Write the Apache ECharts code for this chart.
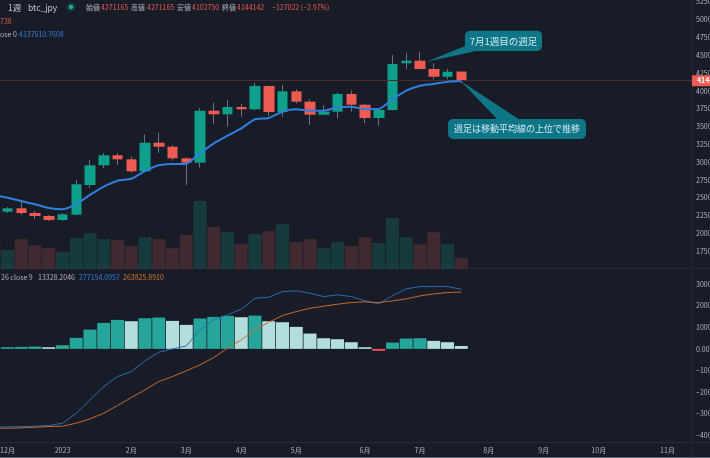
<!DOCTYPE html>
<html lang="ja">
	<head>
		<meta charset="utf-8">
		<title>btc_jpy 1週</title>
		<style>
			html, body { margin: 0; padding: 0; background: #181c27; }
			#chart { width: 710px; height: 458px; }
		</style>
	</head>
	<body>
		<div id="chart"></div>

		<script src="https://cdn.jsdelivr.net/npm/echarts@6/dist/echarts.min.js"></script>
		<script type="text/javascript">
			//週ラベル（先頭の1本は左端で切れている週）
			var weekLabels = ['', '12月', '', '', '', '2023', '', '', '', '', '2月', '', '', '', '3月', '', '', '', '4月', '', '', '', '5月', '', '', '', '', '6月', '', '', '', '7月', '', '', '', '', '8月', '', '', '', '9月', '', '', '', '10月', '', '', '', '', '11月', '', ''];

			//ローソク足
			var opens = [2330000, 2305000, 2353000, 2287000, 2245000, 2189000, 2263000, 2680000, 2956000, 3097000, 3040000, 2872000, 3273000, 3217000, 3054000, 2993000, 3722000, 3672000, 3774000, 3742000, 4069000, 3704000, 3994000, 3849000, 3666000, 3708000, 3957000, 3806000, 3620000, 3732000, 4387000, 4424000, 4307000, 4199000, 4271165];
			var closes = [2305000, 2353000, 2287000, 2245000, 2189000, 2269000, 2690000, 2956000, 3097000, 3040000, 2872000, 3273000, 3217000, 3054000, 2993000, 3722000, 3672000, 3774000, 3742000, 4069000, 3704000, 3994000, 3849000, 3666000, 3708000, 3957000, 3806000, 3620000, 3732000, 4377000, 4424000, 4307000, 4199000, 4269000, 4144142];
			var highs = [2340000, 2371000, 2469000, 2315000, 2259000, 2287000, 2750000, 3031000, 3129000, 3129000, 3077000, 3386000, 3414000, 3241000, 3068000, 3760000, 3834000, 3872000, 3816000, 4115000, 4076000, 4083000, 4022000, 3882000, 3802000, 3975000, 4003000, 3816000, 3739000, 4504000, 4536000, 4550000, 4387000, 4307000, 4271165];
			var lows = [2290000, 2287000, 2263000, 2203000, 2175000, 2175000, 2252000, 2638000, 2918000, 2960000, 2848000, 2862000, 3129000, 3021000, 2680000, 2923000, 3536000, 3498000, 3638000, 3725000, 3648000, 3638000, 3826000, 3522000, 3662000, 3616000, 3708000, 3545000, 3508000, 3725000, 4303000, 4300000, 4163000, 4163000, 4102750];

			//移動平均線
			var maValues = [2540000, 2502000, 2455000, 2409000, 2357000, 2339000, 2413000, 2540000, 2656000, 2740000, 2768000, 2876000, 2956000, 2974000, 2979000, 3125000, 3265000, 3372000, 3475000, 3602000, 3620000, 3708000, 3742000, 3722000, 3722000, 3770000, 3778000, 3746000, 3746000, 3882000, 4003000, 4073000, 4097000, 4130000, 4137610.7608];

			//出来高
			var volumes = [24, 19, 30, 24, 21, 17, 31, 36, 30, 29, 23, 32, 30, 21, 34, 68, 42, 37, 25, 35, 38, 45, 27, 30, 21, 27, 23, 32, 26, 51, 32, 25, 37, 25, 11];

			//MACD
			var macdLine = [-363900, -362300, -360800, -359200, -356100, -345300, -298800, -236900, -175000, -128500, -105300, -55700, -15500, 0, 13900, 88300, 134700, 157900, 184300, 235300, 240000, 266300, 269400, 258600, 243100, 250800, 243100, 223000, 209000, 247700, 278700, 289500, 289500, 289500, 277154.0957];
			var signalLine = [-368500, -368500, -367000, -363900, -360800, -359200, -345300, -325200, -298800, -263200, -226100, -190400, -151800, -128500, -102200, -74300, -40300, 3100, 41800, 88300, 123900, 154800, 173400, 188900, 198200, 207500, 215200, 218300, 215200, 223000, 232300, 246200, 255500, 261700, 263825.891];
			var histogram = [7000, 7700, 9300, 10800, 7700, 17000, 51100, 89800, 120700, 134700, 128500, 142400, 145500, 130000, 111500, 140900, 148600, 153300, 147100, 154800, 128500, 123800, 102200, 71200, 49500, 44900, 31000, 7700, -9000, 29400, 48000, 49500, 37200, 31000, 13328.2046];

			var lastClose = 4144142;

			var upColor = '#0fa08b';
			var downColor = '#ef5b50';
			var textColor = '#b2b5be';
			var labelFont = '"Noto Sans CJK JP", "Noto Sans", sans-serif';

			//凡例テキスト [文字, x, y, 色, サイズ]
			var legendTexts = [
				['1週', 8, 7.5, '#c4c7d0', 8.5],
				['btc_jpy', 28, 7.5, '#c4c7d0', 8.5],
				['始値', 86, 7.5, textColor, 7],
				['4271165', 101, 7.5, downColor, 7],
				['高値', 131, 7.5, textColor, 7],
				['4271165', 147, 7.5, downColor, 7],
				['安値', 177, 7.5, textColor, 7],
				['4102750', 192, 7.5, downColor, 7],
				['終値', 222, 7.5, textColor, 7],
				['4144142', 237, 7.5, downColor, 7],
				['−127022 (−2.97%)', 272, 7.5, downColor, 7],
				['738', 0, 21, downColor, 7],
				['ose 0', 0, 34.5, textColor, 7],
				['4137610.7608', 19, 34.5, '#2f7fe0', 7],
				['26 close 9', 1, 277.5, textColor, 7],
				['13328.2046', 38, 277.5, textColor, 7],
				['277154.0957', 79, 277.5, '#2f7fe0', 7],
				['263825.8910', 123, 277.5, '#e0782f', 7]
			];

			function isUp(i) {
				return closes[i] >= opens[i];
			}

			function histColor(i) {
				var v = histogram[i];
				var prev = i > 0 ? histogram[i - 1] : v;
				if (v >= 0) {
					return v >= prev ? '#26a69a' : '#b2dfdb';
				}
				return v <= prev ? '#ef5350' : '#ffcdd2';
			}

			var graphics = [
				//ペインの区切り
				{ type: 'rect', shape: { x: 692, y: 0, width: 1, height: 458 }, style: { fill: '#262a36' }, z: 1 },
				{ type: 'rect', shape: { x: 0, y: 268, width: 710, height: 1 }, style: { fill: '#262a36' }, z: 1 },
				{ type: 'rect', shape: { x: 0, y: 442, width: 710, height: 1 }, style: { fill: '#262a36' }, z: 1 },
				{ type: 'rect', shape: { x: 0, y: 457, width: 710, height: 1 }, style: { fill: '#5a6270' }, z: 1 },
				//吹き出し
				{ type: 'polygon', shape: { points: [[465, 46], [426.7, 61.7], [476, 51]] }, style: { fill: '#0f7688' }, z: 100 },
				{ type: 'rect', shape: { x: 465, y: 30.7, width: 77, height: 20.3, r: 5 }, style: { fill: '#0f7688' }, z: 100 },
				{ type: 'text', x: 503.5, y: 41, style: { text: '7月1週目の週足', fill: '#d3eaee', font: '9.5px ' + labelFont, align: 'center', verticalAlign: 'middle' }, z: 101 },
				{ type: 'polygon', shape: { points: [[460.7, 81], [498, 120], [520, 120]] }, style: { fill: '#0f7688' }, z: 100 },
				{ type: 'rect', shape: { x: 448, y: 119, width: 138, height: 20, r: 5 }, style: { fill: '#0f7688' }, z: 100 },
				{ type: 'text', x: 517, y: 129, style: { text: '週足は移動平均線の上位で推移', fill: '#d3eaee', font: '9px ' + labelFont, align: 'center', verticalAlign: 'middle' }, z: 101 }
			];
			legendTexts.forEach(function (t) {
				graphics.push({ type: 'text', x: t[1], y: t[2], style: { text: t[0], fill: t[3], font: t[4] + 'px ' + labelFont, verticalAlign: 'middle' }, z: 50 });
			});
			graphics.push({ type: 'circle', shape: { cx: 71, cy: 7, r: 2.2 }, style: { fill: '#12b59b' }, z: 50 });
			graphics.push({ type: 'circle', shape: { cx: 71, cy: 7, r: 4.5 }, style: { fill: 'rgba(18,181,155,0.2)' }, z: 49 });

			var chart = echarts.init(document.getElementById('chart'));
			chart.setOption({
				backgroundColor: '#181c27',
				animation: false,
				graphic: graphics,
				grid: [
					{ left: -13.125, width: 715, top: 1.8, height: 267.3, outerBoundsMode: 'none' },
					{ left: -13.125, width: 715, top: 284.3, height: 150.7, outerBoundsMode: 'none' }
				],
				xAxis: [
					{ type: 'category', gridIndex: 0, data: weekLabels, show: false },
					{
						type: 'category',
						gridIndex: 1,
						data: weekLabels,
						offset: 7,
						axisLine: { show: false },
						axisTick: { show: false },
						axisLabel: {
							color: textColor,
							fontFamily: labelFont,
							fontSize: 7,
							margin: 5,
							hideOverlap: false,
							interval: function (index, value) {
								return value !== '';
							}
						}
					}
				],
				yAxis: [
					{
						type: 'value',
						gridIndex: 0,
						position: 'right',
						offset: -9.875,
						min: 1500000,
						max: 5250000,
						interval: 250000,
						splitLine: { show: false },
						axisLine: { show: false },
						axisTick: { show: false },
						axisLabel: {
							color: textColor,
							fontFamily: labelFont,
							fontSize: 7,
							margin: 4,
							showMinLabel: false,
							formatter: function (v) {
								return String(v);
							}
						}
					},
					{ type: 'value', gridIndex: 0, min: 0, max: 267, show: false, splitLine: { show: false } },
					{
						type: 'value',
						gridIndex: 1,
						position: 'right',
						offset: -9.875,
						min: -400000,
						max: 300000,
						interval: 100000,
						splitLine: { show: false },
						axisLine: { show: false },
						axisTick: { show: false },
						axisLabel: {
							color: textColor,
							fontFamily: labelFont,
							fontSize: 7,
							margin: 4,
							formatter: function (v) {
								return v.toFixed(2).replace('-', '−');
							}
						}
					}
				],
				series: [
					{
						name: 'volume',
						type: 'bar',
						xAxisIndex: 0,
						yAxisIndex: 1,
						barWidth: 13,
						silent: true,
						data: volumes.map(function (v, i) {
							return { value: v, itemStyle: { color: isUp(i) ? '#173b3d' : '#40292f' } };
						})
					},
					{
						//ヒゲ
						name: 'wick',
						type: 'candlestick',
						xAxisIndex: 0,
						yAxisIndex: 0,
						barWidth: 1,
						silent: true,
						itemStyle: { color: '#6b7280', color0: '#6b7280', borderColor: '#6b7280', borderColor0: '#6b7280', borderWidth: 1 },
						data: opens.map(function (o, i) {
							return [o, closes[i], lows[i], highs[i]];
						}),
						markLine: {
							silent: true,
							symbol: 'none',
							lineStyle: { color: '#4c2b33', width: 1, type: 'solid' },
							label: {
								position: 'end',
								distance: -10,
								formatter: String(lastClose),
								color: '#fff',
								fontFamily: labelFont,
								fontWeight: 'bold',
								fontSize: 7,
								backgroundColor: downColor,
								padding: [2, 6, 2, 5]
							},
							data: [{ yAxis: lastClose }]
						}
					},
					{
						//実体
						name: 'body',
						type: 'candlestick',
						xAxisIndex: 0,
						yAxisIndex: 0,
						barWidth: 11,
						silent: true,
						itemStyle: { color: upColor, color0: downColor, borderColor: upColor, borderColor0: downColor, borderWidth: 0 },
						data: opens.map(function (o, i) {
							return [o, closes[i], Math.min(o, closes[i]), Math.max(o, closes[i])];
						})
					},
					{
						name: 'MA',
						type: 'line',
						xAxisIndex: 0,
						yAxisIndex: 0,
						data: maValues,
						showSymbol: false,
						smooth: 0.2,
						z: 5,
						silent: true,
						lineStyle: { color: '#2f7fe0', width: 2 }
					},
					{
						name: 'histogram',
						type: 'bar',
						xAxisIndex: 1,
						yAxisIndex: 2,
						barWidth: 13,
						silent: true,
						data: histogram.map(function (v, i) {
							return { value: v, itemStyle: { color: histColor(i) } };
						})
					},
					{
						name: 'macd',
						type: 'line',
						xAxisIndex: 1,
						yAxisIndex: 2,
						data: macdLine,
						showSymbol: false,
						z: 5,
						silent: true,
						lineStyle: { color: '#2a6cb8', width: 1 }
					},
					{
						name: 'signal',
						type: 'line',
						xAxisIndex: 1,
						yAxisIndex: 2,
						data: signalLine,
						showSymbol: false,
						z: 5,
						silent: true,
						lineStyle: { color: '#c8682a', width: 1 }
					}
				]
			});
		</script>
	</body>
</html>
